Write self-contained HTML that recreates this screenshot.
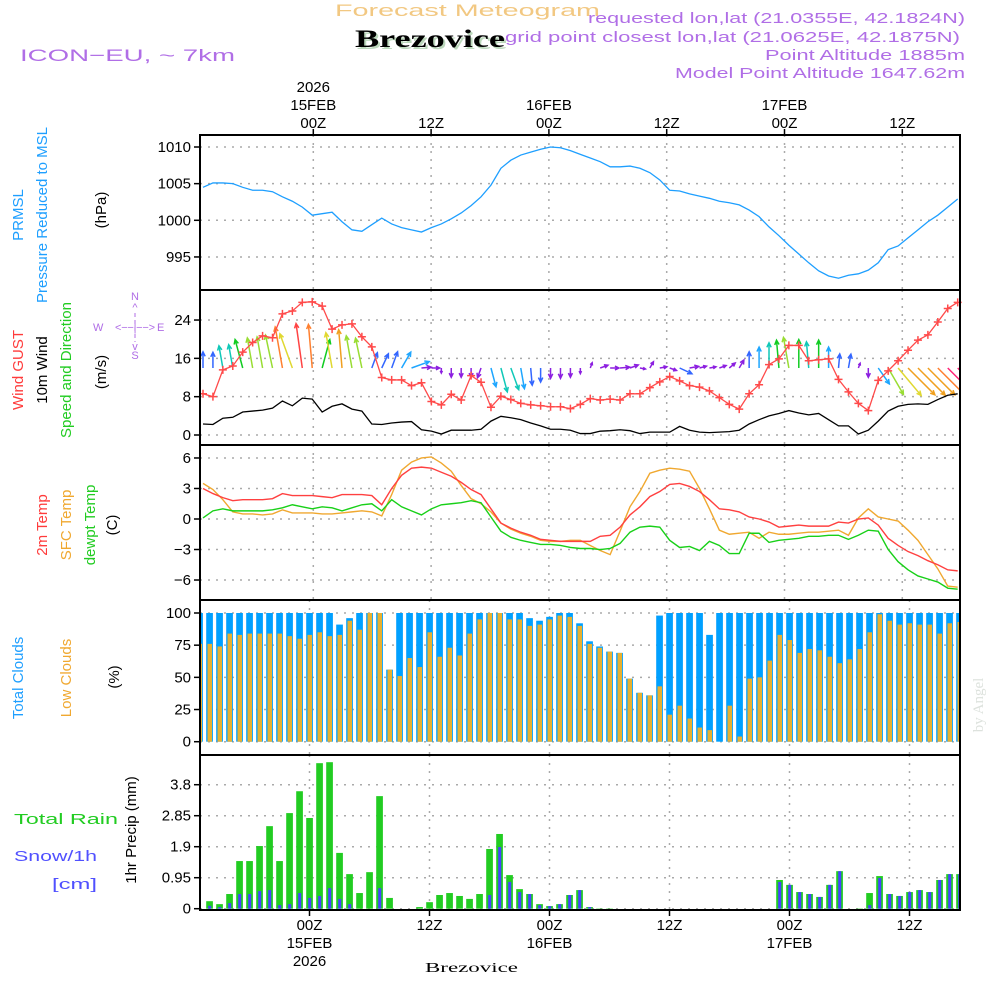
<!DOCTYPE html>
<html><head><meta charset="utf-8"><style>
html,body{margin:0;padding:0;background:#fff;}
svg{display:block;font-family:"Liberation Sans",sans-serif;}
</style></head><body>
<svg id="chart" width="1000" height="1000" viewBox="0 0 1000 1000" xmlns="http://www.w3.org/2000/svg">
<rect x="0" y="0" width="1000" height="1000" fill="#fff"/>
<g>
<text x="335" y="16" textLength="265" lengthAdjust="spacingAndGlyphs" font-size="17" fill="#f2c882">Forecast Meteogram</text>
<text x="357" y="49" textLength="150" lengthAdjust="spacingAndGlyphs" font-family="Liberation Serif,serif" font-weight="bold" font-size="25" fill="#bcd8bc">Brezovice</text>
<text x="355" y="47" textLength="150" lengthAdjust="spacingAndGlyphs" font-family="Liberation Serif,serif" font-weight="bold" font-size="25" fill="#000">Brezovice</text>
<text x="20" y="61" textLength="215" lengthAdjust="spacingAndGlyphs" font-size="17" fill="#b06ee6">ICON−EU, ~ 7km</text>
<text x="588" y="23" textLength="377" lengthAdjust="spacingAndGlyphs" font-size="15" fill="#b06ee6">requested lon,lat (21.0355E, 42.1824N)</text>
<text x="505" y="42" textLength="455" lengthAdjust="spacingAndGlyphs" font-size="15" fill="#b06ee6">grid point closest lon,lat (21.0625E, 42.1875N)</text>
<text x="765" y="60" textLength="200" lengthAdjust="spacingAndGlyphs" font-size="15" fill="#b06ee6">Point Altitude 1885m</text>
<text x="675" y="78" textLength="290" lengthAdjust="spacingAndGlyphs" font-size="15" fill="#b06ee6">Model Point Altitude 1647.62m</text>
</g>
<g id="axislabels" font-size="15">
<text transform="translate(23,215) rotate(-90)" text-anchor="middle" fill="#1e9fff">PRMSL</text>
<text transform="translate(47,215) rotate(-90)" text-anchor="middle" fill="#1e9fff">Pressure Reduced to MSL</text>
<text transform="translate(106,210) rotate(-90)" text-anchor="middle" fill="#000">(hPa)</text>
<text transform="translate(23,370) rotate(-90)" text-anchor="middle" fill="#ff3b3b">Wind GUST</text>
<text transform="translate(47,370) rotate(-90)" text-anchor="middle" fill="#000">10m Wind</text>
<text transform="translate(71,370) rotate(-90)" text-anchor="middle" fill="#22cc22">Speed and Direction</text>
<text transform="translate(106,372) rotate(-90)" text-anchor="middle" fill="#000">(m/s)</text>
<text transform="translate(47,525) rotate(-90)" text-anchor="middle" fill="#ff3b3b">2m Temp</text>
<text transform="translate(71,525) rotate(-90)" text-anchor="middle" fill="#f0a830">SFC Temp</text>
<text transform="translate(95,525) rotate(-90)" text-anchor="middle" fill="#22cc22">dewpt Temp</text>
<text transform="translate(117,525) rotate(-90)" text-anchor="middle" fill="#000">(C)</text>
<text transform="translate(23,678) rotate(-90)" text-anchor="middle" fill="#1e9fff">Total Clouds</text>
<text transform="translate(71,678) rotate(-90)" text-anchor="middle" fill="#f0a830">Low Clouds</text>
<text transform="translate(119,677) rotate(-90)" text-anchor="middle" fill="#000">(%)</text>
<text x="14" y="824" textLength="104" lengthAdjust="spacingAndGlyphs" fill="#22cc22">Total   Rain</text>
<text x="14" y="861" textLength="83" lengthAdjust="spacingAndGlyphs" fill="#5050ff">Snow/1h</text>
<text x="52" y="889" textLength="45" lengthAdjust="spacingAndGlyphs" fill="#5050ff">[cm]</text>
<text transform="translate(136,830) rotate(-90)" text-anchor="middle" fill="#000">1hr Precip (mm)</text>
<text transform="translate(983,705) rotate(-90)" text-anchor="middle" font-family="Liberation Serif,serif" font-size="15" fill="#dde2dd">by Angel</text>
<g fill="#b06ee6" stroke="none" font-size="11">
<text x="135" y="300" text-anchor="middle">N</text>
<text x="135" y="311" text-anchor="middle">^</text>
<text x="135" y="359" text-anchor="middle">S</text>
<text x="135" y="350" text-anchor="middle">v</text>
<text x="93" y="331">W</text>
<text x="157" y="331">E</text>
<text x="115" y="331" textLength="40" lengthAdjust="spacing">&lt;−−¦−−&gt;</text>
<line x1="135" y1="313" x2="135" y2="342" stroke="#b06ee6" stroke-width="1" stroke-dasharray="4 3"/>
</g>
<text x="425" y="972" textLength="93" lengthAdjust="spacingAndGlyphs" font-family="Liberation Serif,serif" font-size="14" fill="#000">Brezovice</text>
</g>
<g id="plot"></g>
</svg>
<script>
// ---- data (hourly, index 0 = 13Z 14FEB) ----
const pressure = [1004.5,1005.1,1005.1,1005.0,1004.5,1004.1,1004.1,1003.9,1003.2,1002.6,1001.8,1000.7,1000.9,1001.1,999.8,998.7,998.5,999.4,1000.3,999.5,999.0,998.7,998.4,999.0,999.5,1000.2,1001.0,1002.0,1003.2,1004.8,1007.1,1008.2,1008.9,1009.3,1009.7,1010.0,1009.9,1009.5,1009.0,1008.5,1008.0,1007.3,1007.3,1007.4,1007.1,1006.5,1005.5,1004.1,1004.0,1003.6,1003.3,1003.0,1002.6,1002.4,1002.1,1001.4,1000.5,999.1,997.9,996.6,995.4,994.2,993.1,992.4,992.1,992.5,992.7,993.2,994.2,996.0,996.5,997.6,998.7,999.8,1000.7,1001.8,1002.9];
const wind10m = [2.3,2.2,3.5,3.7,4.8,5.0,5.2,5.6,7.1,6.1,7.7,7.5,4.8,6.0,6.5,5.4,5.0,2.3,2.2,2.5,2.7,2.8,1.1,0.8,0.2,1.0,1.0,1.0,1.2,2.9,3.9,3.6,3.2,2.5,1.9,1.2,1.2,1.0,0.3,0.3,0.8,0.9,1.1,0.9,0.3,0.6,0.6,0.6,1.8,1.0,0.6,0.5,0.6,0.7,1.0,2.3,3.2,4.0,4.5,5.1,4.6,4.2,4.5,3.2,1.9,1.9,0.2,1.0,2.9,5.0,6.0,6.4,6.5,6.4,7.4,8.3,8.6];
const windGust = [8.6,8.0,13.6,14.4,17.3,19.3,20.7,20.3,25.3,25.9,27.7,27.8,26.9,22.1,23.0,23.2,20.5,18.4,12.0,11.5,11.5,10.3,10.9,7.0,6.3,8.5,7.3,12.4,11.0,5.8,8.1,7.4,6.6,6.3,6.1,5.9,5.9,5.5,6.4,7.6,7.3,7.5,7.3,8.6,8.6,9.9,11.1,12.2,11.3,10.3,10.0,9.2,7.8,6.4,5.4,8.6,10.5,14.7,15.9,18.7,18.7,15.5,15.7,15.9,11.6,9.0,6.6,5.1,11.4,13.4,15.5,17.7,19.8,20.9,23.6,26.4,27.7];
const windDir = [0,0,-10,-10,-15,-10,-10,-12,-10,-20,-8,-5,15,-10,-5,-10,-12,20,25,20,30,70,85,90,180,180,180,180,200,165,165,160,170,175,180,180,180,180,180,20,70,90,85,70,100,30,80,110,115,80,75,80,70,50,30,0,0,0,-5,-10,0,-5,0,0,5,10,20,180,145,150,140,135,135,135,135,135,135];
const temp2m = [3.0,2.5,2.1,1.8,1.9,1.9,1.9,2.0,2.5,2.3,2.3,2.3,2.2,2.1,2.4,2.4,2.4,2.3,1.4,3.0,4.3,5.0,5.1,5.0,4.6,4.2,3.6,2.9,2.4,1.0,-0.4,-0.9,-1.3,-1.6,-2.0,-2.1,-2.2,-2.2,-2.2,-2.2,-1.7,-1.6,-0.8,0.4,1.2,2.2,2.7,3.4,3.5,3.2,2.7,1.9,1.0,0.9,0.7,0.2,0.0,-0.3,-0.8,-0.7,-0.6,-0.7,-0.7,-0.7,-0.3,-0.4,0.0,0.1,-0.6,-1.9,-2.6,-3.2,-3.6,-4.1,-4.5,-5.0,-5.1];
const tempSfc = [3.5,2.9,1.9,0.7,0.5,0.5,0.4,0.5,0.9,0.6,0.6,0.6,0.5,0.5,0.6,0.7,0.8,0.7,0.3,2.4,4.8,5.6,6.0,6.1,5.5,4.7,3.3,2.0,1.5,0.7,-0.4,-1.0,-1.4,-1.7,-2.1,-2.2,-2.2,-2.1,-2.1,-2.6,-3.1,-3.5,-1.2,1.2,2.7,4.5,4.8,5.0,4.9,4.7,3.0,1.0,-1.1,-1.5,-1.4,-1.3,-1.9,-1.3,-1.5,-1.5,-1.4,-1.3,-1.3,-1.2,-1.1,-1.6,0.1,1.0,0.2,0.0,-0.2,-1.1,-2.1,-3.5,-4.9,-6.6,-6.7];
const dewpoint = [0.1,0.8,1.0,0.8,0.8,0.8,0.8,0.9,1.1,1.4,1.2,1.0,1.2,1.1,0.8,1.1,1.4,1.5,0.8,1.9,1.2,0.8,0.4,1.0,1.4,1.5,1.6,1.8,1.6,0.2,-1.2,-1.8,-2.1,-2.3,-2.5,-2.5,-2.6,-2.8,-2.9,-2.9,-3.0,-2.9,-2.4,-1.3,-0.8,-0.7,-0.8,-2.1,-2.8,-2.7,-3.1,-2.2,-2.6,-3.4,-3.4,-1.4,-1.4,-2.3,-2.1,-2.0,-1.9,-1.7,-1.7,-1.6,-1.6,-2.0,-1.6,-1.1,-1.2,-3.0,-4.2,-5.0,-5.6,-5.9,-6.2,-6.8,-6.9];
const totalClouds = [100,100,100,100,100,100,100,100,100,100,100,100,100,100,91,96,100,100,100,56,100,100,100,100,100,100,100,100,100,100,100,100,100,96,94,97,100,100,92,78,74,70,69,49,38,36,98,100,100,100,100,83,100,100,100,100,100,100,100,100,100,100,100,100,100,100,100,100,100,100,100,100,100,100,100,100,100];
const lowClouds = [76,76,74,84,83,84,84,84,84,82,80,83,85,82,83,94,87,100,100,56,51,65,58,85,66,73,67,84,95,100,100,95,95,90,91,95,98,97,90,76,73,70,69,49,38,36,43,21,28,18,11,9,0,28,4,49,50,63,83,79,69,72,71,66,61,64,72,85,99,94,91,92,91,91,84,92,93];
const precipTotal = [0,0.23,0.14,0.45,1.46,1.46,1.92,2.53,1.46,2.93,3.6,2.78,4.46,4.49,1.71,1.06,0.48,1.12,3.45,0.33,0,0,0.05,0.2,0.42,0.48,0.39,0.3,0.45,1.83,2.29,1.03,0.6,0.45,0.14,0.08,0.14,0.42,0.57,0.05,0.01,0.01,0,0,0,0,0,0,0,0,0,0,0,0,0,0,0,0,0.88,0.73,0.51,0.45,0.36,0.73,1.15,0,0.01,0.48,1.0,0.45,0.39,0.51,0.57,0.51,0.88,1.06,1.06];
const snowHourly = [0,0.09,0.05,0.17,0.45,0.45,0.54,0.57,0.11,0.14,0.48,0.33,0.39,0.63,0.3,0.14,0,0,0.63,0,0,0,0,0,0,0,0,0,0,0.42,1.89,0.82,0.51,0.45,0.11,0.08,0.14,0.42,0.57,0.05,0,0,0,0,0,0,0,0,0,0,0,0,0,0,0,0,0,0,0.82,0.73,0.51,0.45,0.36,0.73,1.15,0,0,0.11,0.94,0.45,0.39,0.51,0.57,0.51,0.88,1.06,1.06];
const pressureTicks = [1010,1005,1000,995];
const windTicks = [24,16,8,0];
const tempTicks = [6,3,0,-3,-6];
const cloudTicks = [100,75,50,25,0];
const precipTicks = ["3.8","2.85","1.9","0.95","0"];
const timeTicks = ["00Z","12Z","00Z","12Z","00Z","12Z"];
const dateTicks = ["15FEB","","16FEB","","17FEB",""];

// ---- scales ----
const X0=200, X1=960;
const xLine = i => 203 + 9.93*i;
const xLineTick = k => 313.3 + 117.8*k;
const xBar = i => 199.5 + 10*i;
const xBarTick = k => 309.5 + 120*k;
const yP = p => 147 + (1010-p)*7.33;
const yW = v => 435 - v*4.79;
const yT = t => 519 - t*10.17;
const yC = c => 741.7 - c*1.287;
const yR = r => 908.7 - r*32.63;
const panels=[[135,290],[290,445],[445,600],[600,755],[755,910]];

const NS="http://www.w3.org/2000/svg";
const plot=document.getElementById('plot');
function mk(tag,attrs,parent){const e=document.createElementNS(NS,tag);for(const k in attrs)e.setAttribute(k,attrs[k]);(parent||plot).appendChild(e);return e;}

const clip=mk('clipPath',{id:'pclip'});
mk('rect',{x:X0,y:135,width:X1-X0,height:775},clip);

function hgrid(y){const l=mk('line',{x1:X0,x2:X1,y1:y,y2:y,stroke:'#aaa','stroke-width':1.5,'stroke-dasharray':'2 6'});

}
function vgrid(x,y1,y2){const l=mk('line',{x1:x,x2:x,y1:y1,y2:y2,stroke:'#aaa','stroke-width':1.5,'stroke-dasharray':'2 6'});

}
function ytick(y,label,name){
 const t=mk('line',{x1:194,x2:200,y1:y,y2:y,stroke:'#000','stroke-width':1.5});
 
 
 const tx=mk('text',{x:191,y:y+5,'text-anchor':'end','font-size':15,fill:'#000'});tx.textContent=label;
 
 
}
pressureTicks.forEach(v=>{hgrid(yP(v));ytick(yP(v),v,'pressure-axis');});
windTicks.forEach(v=>{hgrid(yW(v));ytick(yW(v),v,'wind-axis');});
tempTicks.forEach(v=>{hgrid(yT(v));ytick(yT(v),v===0?'0':(v<0?'−'+(-v):v),'temp-axis');});
cloudTicks.forEach(v=>{hgrid(yC(v));ytick(yC(v),v,'cloud-axis');});
precipTicks.forEach(v=>{hgrid(yR(+v));ytick(yR(+v),v,'precip-axis');});
for(let k=0;k<6;k++){
 for(let p=0;p<3;p++)vgrid(xLineTick(k),panels[p][0],panels[p][1]);
 for(let p=3;p<5;p++)vgrid(xBarTick(k),panels[p][0],panels[p][1]);
}

const pLine=mk('polyline',{points:pressure.map((v,i)=>xLine(i)+','+yP(v)).join(' '),fill:'none',stroke:'#1e9fff','stroke-width':1.3});



function windColor(s){
 if(s<1.6)return '#8c1fe0';if(s<2.6)return '#3366ff';if(s<3.4)return '#1ea6ff';if(s<4.4)return '#10c8b8';
 if(s<5.0)return '#11cc22';if(s<5.8)return '#99dd33';if(s<6.3)return '#e0d830';if(s<7.0)return '#f0a020';if(s<7.6)return '#ff8030';if(s<8.2)return '#ff4444';return '#ff2277';}
const ag=mk('g',{'clip-path':'url(#pclip)'});


windDir.forEach((d,i)=>{
 const s=wind10m[i], L=4+s*5.3, a=d*Math.PI/180;
 const bx=xLine(i), by=368, tx=bx+L*Math.sin(a), ty=by-L*Math.cos(a);
 const c=windColor(s);
 const hl=Math.min(5,L*0.5);
 const h1=a+Math.PI-0.45, h2=a+Math.PI+0.45;
 const path=`M${bx},${by}L${tx},${ty}M${tx+hl*Math.sin(h1)},${ty-hl*Math.cos(h1)}L${tx},${ty}L${tx+hl*Math.sin(h2)},${ty-hl*Math.cos(h2)}`;
 const e=mk('path',{d:path,stroke:c,'stroke-width':1.5,fill:'none'},ag);
 
 
});
const wl=mk('polyline',{points:wind10m.map((v,i)=>xLine(i)+','+yW(v)).join(' '),fill:'none',stroke:'#000','stroke-width':1.3});


const gl=mk('polyline',{points:windGust.map((v,i)=>xLine(i)+','+yW(v)).join(' '),fill:'none',stroke:'#ff4a4a','stroke-width':1.3});


windGust.forEach((v,i)=>{const x=xLine(i),y=yW(v);
 const m=mk('path',{d:`M${x-4},${y}H${x+4}M${x},${y-4}V${y+4}`,stroke:'#ff4a4a','stroke-width':1.5});
 
 });

[[tempSfc,'#f0a830','sfc-temp-line'],[temp2m,'#ff4040','temp-2m-line'],[dewpoint,'#18d018','dewpoint-line']].forEach(([arr,c,n])=>{
 const l=mk('polyline',{points:arr.map((v,i)=>xLine(i)+','+yT(v)).join(' '),fill:'none',stroke:c,'stroke-width':1.4});
 
 
});

const cg=mk('g',{'clip-path':'url(#pclip)'});


totalClouds.forEach((v,i)=>{const x=xBar(i);
 const b=mk('rect',{x:x-3.3,y:yC(v),width:6.7,height:yC(0)-yC(v),fill:'#00a0ff'},cg);
 
 
 const lv=lowClouds[i];
 const o=mk('rect',{x:x-2,y:yC(lv),width:4.5,height:yC(0)-yC(lv),fill:'#e8b030'},cg);
 
 
});

const rg=mk('g',{'clip-path':'url(#pclip)'});


precipTotal.forEach((v,i)=>{if(v<=0)return;const x=xBar(i);
 const b=mk('rect',{x:x-3.3,y:yR(v),width:6.7,height:yR(0)-yR(v),fill:'#22cc22'},rg);
 
 
 const s=snowHourly[i];
 if(s>0){const sb=mk('rect',{x:x-1.3,y:yR(s),width:3,height:yR(0)-yR(s),fill:'#4444ff'},rg);
 
 }
});

panels.forEach((p,k)=>{const r=mk('rect',{x:X0,y:p[0],width:X1-X0,height:p[1]-p[0],fill:'none',stroke:'#000','stroke-width':2});
 
 });

for(let k=0;k<6;k++){const x=xLineTick(k);
 const tk=mk('line',{x1:x,x2:x,y1:129,y2:135,stroke:'#000','stroke-width':1.5});
 
 
 const t=mk('text',{x:x,y:128,'text-anchor':'middle','font-size':15,fill:'#000'});t.textContent=timeTicks[k];
 
 
 if(dateTicks[k]){const d=mk('text',{x:x,y:110,'text-anchor':'middle','font-size':15,fill:'#000'});d.textContent=dateTicks[k];
 
 }
}
const y1=mk('text',{x:xLineTick(0),y:92,'text-anchor':'middle','font-size':15,fill:'#000'});y1.textContent='2026';


for(let k=0;k<6;k++){const x=xBarTick(k);
 const tk=mk('line',{x1:x,x2:x,y1:910,y2:916,stroke:'#000','stroke-width':1.5});
 
 
 const t=mk('text',{x:x,y:930,'text-anchor':'middle','font-size':15,fill:'#000'});t.textContent=timeTicks[k];
 
 
 if(dateTicks[k]){const d=mk('text',{x:x,y:948,'text-anchor':'middle','font-size':15,fill:'#000'});d.textContent=dateTicks[k];
 
 }
}
const y2=mk('text',{x:xBarTick(0),y:966,'text-anchor':'middle','font-size':15,fill:'#000'});y2.textContent='2026';


</script>
</body></html>
